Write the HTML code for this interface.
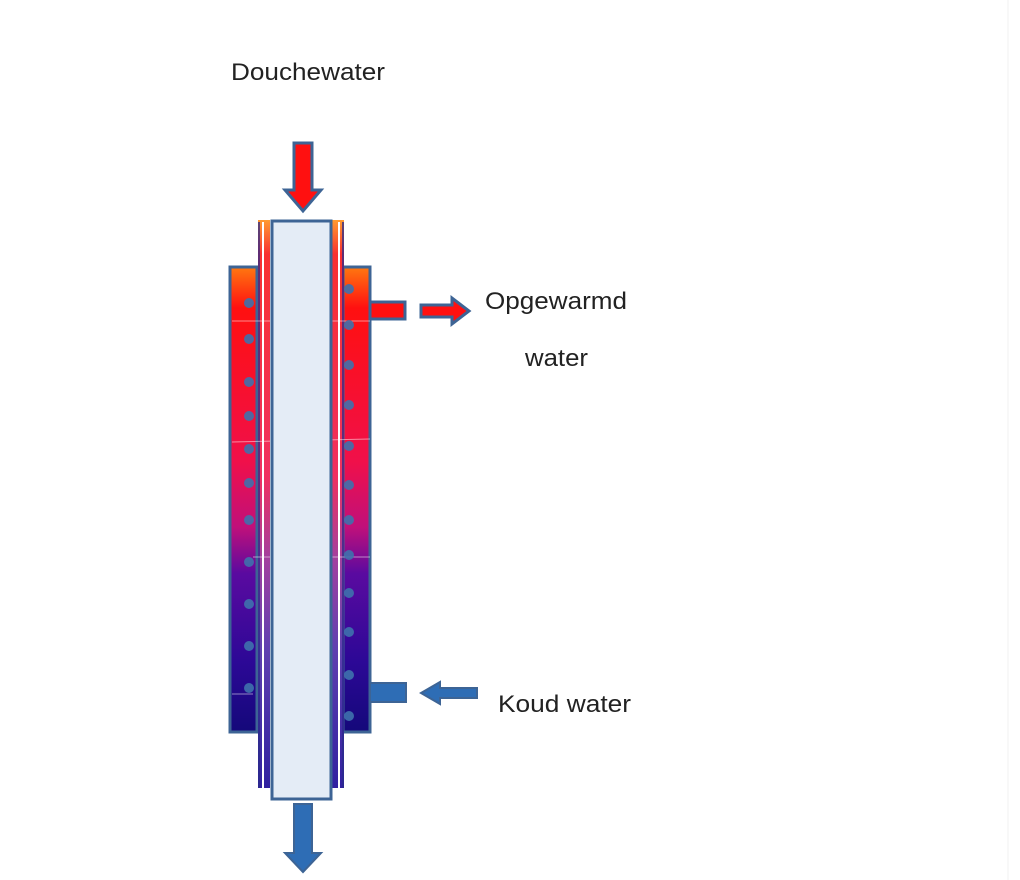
<!DOCTYPE html>
<html><head><meta charset="utf-8"><style>html,body{margin:0;padding:0;background:#fff;}svg{display:block;}</style></head>
<body>
<svg width="1020" height="880" viewBox="0 0 1020 880" xmlns="http://www.w3.org/2000/svg">
<defs>
<linearGradient id="g" x1="0" y1="266" x2="0" y2="732" gradientUnits="userSpaceOnUse">
<stop offset="0" stop-color="#ff7a10"/>
<stop offset="0.09" stop-color="#ff1010"/>
<stop offset="0.42" stop-color="#f0104a"/>
<stop offset="0.56" stop-color="#c0107a"/>
<stop offset="0.66" stop-color="#5a0aa0"/>
<stop offset="0.85" stop-color="#2c0896"/>
<stop offset="1" stop-color="#14087a"/>
</linearGradient>
<linearGradient id="g2" x1="0" y1="220" x2="0" y2="790" gradientUnits="userSpaceOnUse">
<stop offset="0" stop-color="#ff9a30"/>
<stop offset="0.06" stop-color="#f83030"/>
<stop offset="0.45" stop-color="#f03060"/>
<stop offset="0.6" stop-color="#a040a0"/>
<stop offset="0.75" stop-color="#6040b0"/>
<stop offset="1" stop-color="#3020a0"/>
</linearGradient>
</defs>
<line x1="1008" y1="0" x2="1008" y2="880" stroke="#f0f0f0" stroke-width="1"/>
<g font-family="Liberation Sans, sans-serif" font-size="24" fill="#222" lengthAdjust="spacingAndGlyphs">
<text x="231" y="80" textLength="154" lengthAdjust="spacingAndGlyphs">Douchewater</text>
<text x="485" y="309" textLength="142" lengthAdjust="spacingAndGlyphs">Opgewarmd</text>
<text x="525" y="366" textLength="63" lengthAdjust="spacingAndGlyphs">water</text>
<text x="498" y="712" textLength="133" lengthAdjust="spacingAndGlyphs">Koud water</text>
</g>
<!-- top arrow -->
<path d="M294,143 H312 V190 H321 L303,211 L285,190 H294 Z" fill="#ff1010" stroke="#3d6495" stroke-width="3"/>
<!-- jackets -->
<rect x="230" y="267" width="27" height="465" fill="url(#g)" stroke="#3d6495" stroke-width="3"/>
<rect x="343" y="267" width="27" height="465" fill="url(#g)" stroke="#3d6495" stroke-width="3"/>
<!-- thin walls -->
<rect x="258" y="220" width="12" height="568" fill="url(#g2)"/>
<rect x="332" y="220" width="12" height="568" fill="url(#g2)"/>
<line x1="263" y1="222" x2="263" y2="788" stroke="#fff" stroke-width="2"/>
<line x1="339" y1="222" x2="339" y2="788" stroke="#fff" stroke-width="2"/>
<line x1="259" y1="222" x2="259" y2="788" stroke="#2a2a8a" stroke-width="1.5"/>
<line x1="343" y1="222" x2="343" y2="788" stroke="#2a2a8a" stroke-width="1.5"/>
<!-- faint lines -->
<line x1="232" y1="321" x2="370" y2="321" stroke="#ffffff" stroke-opacity="0.5"/>
<line x1="232" y1="442" x2="370" y2="439" stroke="#ffffff" stroke-opacity="0.5"/>
<line x1="253" y1="557" x2="370" y2="557" stroke="#ffffff" stroke-opacity="0.5"/>
<line x1="232" y1="694" x2="253" y2="694" stroke="#ffffff" stroke-opacity="0.5"/>
<!-- inner tube -->
<rect x="272" y="221" width="59" height="578" fill="#e4ecf6" stroke="#3d6495" stroke-width="3"/>
<!-- dots -->
<g fill="#3f72ad" opacity="0.9">
<circle cx="249" cy="303" r="5"/><circle cx="249" cy="339" r="5"/><circle cx="249" cy="382" r="5"/><circle cx="249" cy="416" r="5"/><circle cx="249" cy="449" r="5"/><circle cx="249" cy="483" r="5"/><circle cx="249" cy="520" r="5"/><circle cx="249" cy="562" r="5"/><circle cx="249" cy="604" r="5"/><circle cx="249" cy="646" r="5"/><circle cx="249" cy="688" r="5"/>
<circle cx="349" cy="289" r="5"/><circle cx="349" cy="325" r="5"/><circle cx="349" cy="365" r="5"/><circle cx="349" cy="405" r="5"/><circle cx="349" cy="446" r="5"/><circle cx="349" cy="485" r="5"/><circle cx="349" cy="520" r="5"/><circle cx="349" cy="555" r="5"/><circle cx="349" cy="593" r="5"/><circle cx="349" cy="632" r="5"/><circle cx="349" cy="675" r="5"/><circle cx="349" cy="716" r="5"/>
</g>
<!-- outlet -->
<rect x="370" y="302" width="35" height="17" fill="#ff1010" stroke="#3d6495" stroke-width="3"/>
<path d="M421,305 H452 V298 L469,311 L452,324 V317 H421 Z" fill="#ff1010" stroke="#3d6495" stroke-width="3"/>
<!-- cold inlet -->
<rect x="370" y="683" width="36" height="19" fill="#2e6db5" stroke="#3d6495" stroke-width="2"/>
<path d="M477,688 H440 V682 L421,693 L440,704 V698 H477 Z" fill="#2e6db5" stroke="#3d6495" stroke-width="2"/>
<!-- bottom arrow -->
<path d="M294,804 H312 V853 H321 L303,872 L285,853 H294 Z" fill="#2e6db5" stroke="#3d6495" stroke-width="2"/>
</svg>
</body></html>
